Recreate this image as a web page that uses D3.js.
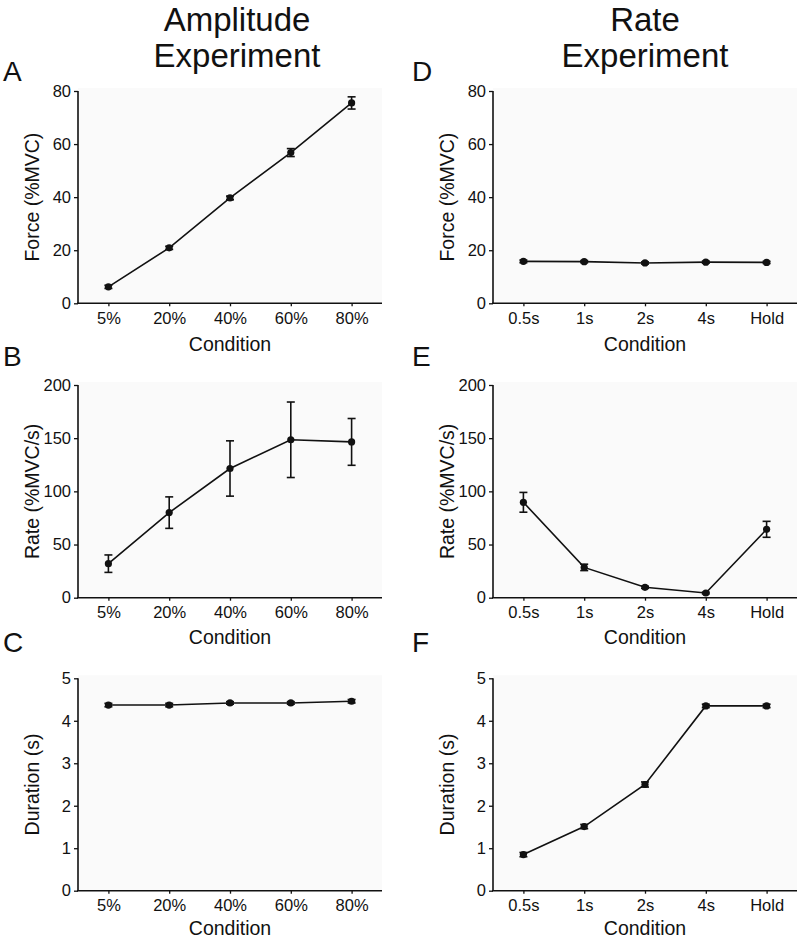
<!DOCTYPE html>
<html><head><meta charset="utf-8">
<script src="https://cdn.jsdelivr.net/npm/d3@7"></script>
<style>body{margin:0;background:#fff}svg{display:block;font-family:Arial,"Liberation Sans",sans-serif}</style>
</head><body><svg id="c" width="800" height="940"></svg>
<script>
const ampCats = ["5%","20%","40%","60%","80%"];
const rateCats = ["0.5s","1s","2s","4s","Hold"];

const ampForce = [6.2, 20.9, 39.7, 56.8, 75.5];
const ampForceErr = [0.6, 0.6, 0.7, 1.5, 2.3];
const ampRate = [32, 80, 121.5, 148.5, 146.5];
const ampRateErr = [8.2, 14.8, 26, 35.5, 22];
const ampDur = [4.37, 4.37, 4.42, 4.42, 4.46];
const ampDurErr = [0.04, 0.04, 0.03, 0.03, 0.04];

const rateForce = [15.8, 15.7, 15.2, 15.5, 15.4];
const rateForceErr = [0.5, 0.4, 0.4, 0.4, 0.4];
const rateRate = [89.7, 28.5, 9.8, 4.4, 64.3];
const rateRateErr = [9.3, 3, 1, 0.8, 7.5];
const rateDur = [0.85, 1.51, 2.50, 4.35, 4.35];
const rateDurErr = [0.05, 0.05, 0.06, 0.04, 0.04];

const forceTicks = [0,20,40,60,80];
const rateTicks = [0,50,100,150,200];
const durTicks = [0,1,2,3,4,5];

const svg = d3.select("#c");

const cols = [{x0:78, x1:382, cats:ampCats, title:["Amplitude","Experiment"], tx:237},
              {x0:493, x1:797, cats:rateCats, title:["Rate","Experiment"], tx:645}];
const rows = [{y0:91, y1:303.3, label:"Force (%MVC)", ticks:forceTicks, max:80, cy:48},
              {y0:385, y1:597.7, label:"Rate (%MVC/s)", ticks:rateTicks, max:200, cy:46},
              {y0:678.3, y1:890.7, label:"Duration (s)", ticks:durTicks, max:5, cy:44}];
const panels = [
  {c:0,r:0,letter:"A",v:ampForce,e:ampForceErr},
  {c:0,r:1,letter:"B",v:ampRate,e:ampRateErr},
  {c:0,r:2,letter:"C",v:ampDur,e:ampDurErr},
  {c:1,r:0,letter:"D",v:rateForce,e:rateForceErr},
  {c:1,r:1,letter:"E",v:rateRate,e:rateRateErr},
  {c:1,r:2,letter:"F",v:rateDur,e:rateDurErr}
];
const letterY = [81, 366, 652];
const letterX = [3, 412];

cols.forEach(col=>{
  const t = svg.append("text").attr("x",col.tx).attr("text-anchor","middle")
    .attr("font-size",33).attr("fill","#111");
  t.append("tspan").attr("x",col.tx).attr("y",31).text(col.title[0]);
  t.append("tspan").attr("x",col.tx).attr("y",67).text(col.title[1]);
});

panels.forEach(p=>{
  const col = cols[p.c], row = rows[p.r];
  const x = d3.scalePoint().domain(col.cats).range([col.x0, col.x1]).padding(0.5);
  const y = d3.scaleLinear().domain([0,row.max]).range([row.y1,row.y0]);
  const g = svg.append("g");
  g.append("rect").attr("x",col.x0).attr("y",row.y0-3).attr("width",col.x1-col.x0).attr("height",row.y1-row.y0+3)
    .attr("fill","#fafafa");
  svg.append("text").attr("x",letterX[p.c]).attr("y",letterY[p.r]).attr("font-size",28).attr("fill","#111").text(p.letter);

  const ya = g.append("g").attr("transform",`translate(${col.x0},0)`)
    .call(d3.axisLeft(y).tickValues(row.ticks).tickFormat(d3.format("d")).tickSize(4).tickPadding(3).tickSizeOuter(0));
  ya.select(".domain").attr("stroke","#111").attr("stroke-width",1.6).attr("d",`M0,${row.y1}V${row.y0}`);
  ya.selectAll(".tick line").attr("stroke","#111").attr("stroke-width",1.3);
  ya.selectAll("text").attr("font-size",16.5).attr("fill","#111").attr("font-family","Arial, Liberation Sans, sans-serif");

  const xa = g.append("g").attr("transform",`translate(0,${row.y1})`)
    .call(d3.axisBottom(x).tickSize(3).tickPadding(6).tickSizeOuter(0));
  xa.select(".domain").attr("stroke","#111").attr("stroke-width",1.6).attr("d",`M${col.x0-1},0H${col.x1}`);
  xa.selectAll(".tick line").attr("stroke","#111").attr("stroke-width",1.3);
  xa.selectAll("text").attr("font-size",16.5).attr("fill","#111").attr("font-family","Arial, Liberation Sans, sans-serif");

  g.append("text").attr("x",(col.x0+col.x1)/2).attr("y",row.y1+row.cy).attr("text-anchor","middle")
    .attr("font-size",19.5).attr("fill","#111").text("Condition");
  const ly = (row.y0+row.y1)/2;
  const lx = col.x0-39;
  g.append("text").attr("transform",`translate(${lx},${ly}) rotate(-90)`).attr("text-anchor","middle")
    .attr("font-size",19.5).attr("fill","#111").text(row.label);

  const data = col.cats.map((c,i)=>({c, v:p.v[i], e:p.e[i]}));
  g.append("path").datum(data).attr("fill","none").attr("stroke","#111").attr("stroke-width",1.6)
    .attr("d",d3.line().x(d=>x(d.c)).y(d=>y(d.v)));
  const eb = g.selectAll(".eb").data(data).enter().append("g").attr("stroke","#111").attr("stroke-width",1.6);
  eb.append("line").attr("x1",d=>x(d.c)).attr("x2",d=>x(d.c)).attr("y1",d=>y(d.v-d.e)).attr("y2",d=>y(d.v+d.e));
  eb.append("line").attr("x1",d=>x(d.c)-4).attr("x2",d=>x(d.c)+4).attr("y1",d=>y(d.v-d.e)).attr("y2",d=>y(d.v-d.e));
  eb.append("line").attr("x1",d=>x(d.c)-4).attr("x2",d=>x(d.c)+4).attr("y1",d=>y(d.v+d.e)).attr("y2",d=>y(d.v+d.e));
  g.selectAll(".pt").data(data).enter().append("circle").attr("cx",d=>x(d.c)).attr("cy",d=>y(d.v)).attr("r",3.6).attr("fill","#111");
});
</script></body></html>
